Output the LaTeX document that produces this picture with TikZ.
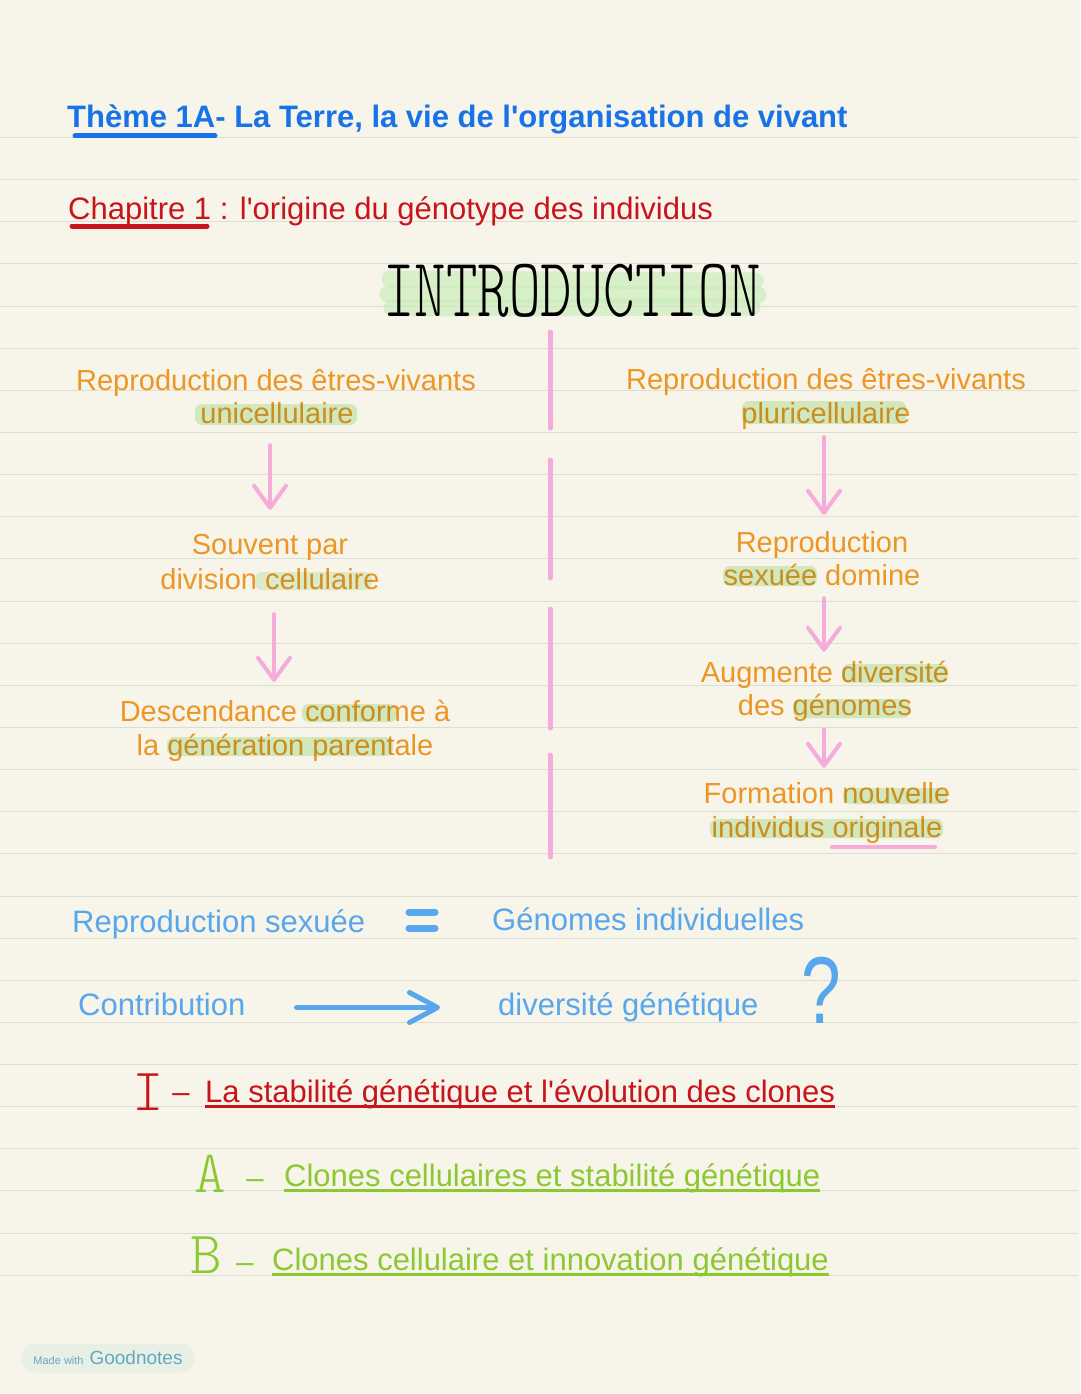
\documentclass[tikz,border=0pt]{standalone}
\usepackage{fontspec}
\setmainfont{Liberation Sans}
\newfontfamily\handfont{lmmonolt10-regular.otf}
\usepackage{tikz}
\usetikzlibrary{arrows.meta, positioning, calc}

\definecolor{paper}{RGB}{247,244,233}
\definecolor{ruleline}{RGB}{222,221,212}
\definecolor{titleblue}{RGB}{24,115,232}
\definecolor{chapred}{RGB}{200,20,28}
\definecolor{notesorange}{RGB}{236,150,38}
\definecolor{markpink}{RGB}{245,172,218}
\definecolor{skyblue}{RGB}{88,166,235}
\definecolor{limegreen}{RGB}{140,200,50}
\definecolor{hlgreen}{RGB}{218,242,206}
\definecolor{introgreen}{RGB}{196,236,180}
\definecolor{badgefill}{RGB}{232,239,229}
\definecolor{badgetext}{RGB}{100,168,196}

\begin{document}
\begin{tikzpicture}[x=1pt, y=-1pt,
    col/.style={font=\fontsize{29}{34}\selectfont, text=notesorange, inner sep=0pt,
                anchor=base, text height=21pt, text depth=6pt},
    bluetxt/.style={font=\fontsize{31}{36}\selectfont, text=skyblue, inner sep=0pt,
                anchor=base west, text height=22pt, text depth=7pt},
    sect/.style={font=\fontsize{31}{36}\selectfont, inner sep=0pt, anchor=base},
    hand/.style={font=\handfont\fontsize{60}{60}\selectfont, inner sep=0pt, anchor=base},
    pinkarr/.style={draw=markpink, line width=4pt, line cap=round,
                -{Straight Barb[length=22pt, width=32pt, round]}},
    bluearr/.style={draw=skyblue, line width=5pt, line cap=round,
                -{Straight Barb[length=28pt, width=30pt, round]}},
    sepline/.style={markpink, line width=5pt, line cap=round},
    ruled/.style={ruleline, line width=1.5pt},
    hl/.style={fill=hlgreen, rounded corners=7pt}]

    \useasboundingbox (0,0) rectangle (1080,1394);
    \fill[paper] (0,0) rectangle (1080,1394);

    % === ruled paper ===
    \foreach \k in {0,...,27}{
        \pgfmathsetmacro{\ry}{round(137+42.14*\k)+0.5}
        \draw[ruled] (0,\ry) -- (1078,\ry);
    }

    % === headings ===
    \node[anchor=base west, inner sep=0pt, font=\bfseries\fontsize{31}{36}\selectfont, text=titleblue]
        (theme) at (67,128) {Thème 1A- La Terre, la vie de l\textquotesingle organisation de vivant};
    \draw[titleblue, line width=5pt, line cap=round] (75,136) -- (215,136);

    \node[anchor=base west, inner sep=0pt, font=\fontsize{31}{36}\selectfont, text=chapred]
        (chap) at (68,219) {Chapitre 1 : l\textquotesingle origine du génotype des individus};
    \draw[chapred, line width=5pt, line cap=round] (72,226) -- (207,226);

    % === INTRODUCTION ===
    \draw[introgreen, line width=17pt, line cap=round, opacity=0.6] (390,279) -- (755,281);
    \draw[introgreen, line width=17pt, line cap=round, opacity=0.6] (388,294) -- (758,295);
    \draw[introgreen, line width=17pt, line cap=round, opacity=0.6] (392,308) -- (752,307);
    \node[font=\handfont\fontsize{60}{60}\selectfont, inner sep=0pt]
        (intro) at (572,291) {\scalebox{1}[1.4]{INTRODUCTION}};

    % === left column ===
    \node[col] (lreprod) at (276,390) {Reproduction des êtres-vivants};
    \node[col] (lunicell) at (277,423) {unicellulaire};
    \node[col] (lsouvent) at (270,554) {Souvent par};
    \node[col] (ldivision) at (270,589) {division cellulaire};
    \node[col] (ldescend) at (285,721) {Descendance conforme à};
    \node[col] (lgener) at (285,755) {la génération parentale};

    \draw[pinkarr, shorten <=16pt, shorten >=23pt] (lunicell.south -| lsouvent) -- (lsouvent.north);
    \draw[pinkarr, shorten <=19pt, shorten >=18pt] ([xshift=4pt]ldivision.south) -- ([xshift=-11pt]ldescend.north);

    % === right column ===
    \node[col] (rreprod) at (826,389) {Reproduction des êtres-vivants};
    \node[col] (rpluri) at (826,423) {pluricellulaire};
    \node[col] (rsexA) at (822,552) {Reproduction};
    \node[col] (rsexB) at (822,585) {sexuée domine};
    \node[col] (rdivA) at (825,682) {Augmente diversité};
    \node[col] (rdivB) at (825,715) {des génomes};
    \node[col] (rformA) at (827,803) {Formation nouvelle};
    \node[col] (rformB) at (827,837) {individus originale};

    \draw[pinkarr, shorten <=8pt, shorten >=16pt] ([xshift=-2pt]rpluri.south) -- ([xshift=2pt]rsexA.north);
    \draw[pinkarr, shorten <=7pt, shorten >=9pt] ([xshift=2pt]rsexB.south) -- ([xshift=-1pt]rdivA.north);
    \draw[pinkarr, shorten <=8pt, shorten >=14pt] ([xshift=-1pt]rdivB.south) -- ([xshift=-3pt]rformA.north);
    \draw[markpink, line width=4pt, line cap=round] (832,847) -- (935,847);

    % separator
    \foreach \a/\b in {332/428, 460/578, 609/728, 755/857}
        \draw[sepline] (550,\a) -- (550,\b);

    % === highlighter ===
    \begin{scope}[blend mode=multiply]
        \fill[hl] (195,404) rectangle (357,425);
        \fill[hl, opacity=0.7] (255,572) rectangle (372,590);
        \fill[hl] (302,704) rectangle (397,722);
        \fill[hl] (167,737) rectangle (393,756);
        \fill[hl] (742,401) rectangle (906,424);
        \fill[hl] (723,566) rectangle (817,586);
        \fill[hl] (842,664) rectangle (948,683);
        \fill[hl] (793,699) rectangle (910,718);
        \fill[hl] (843,788) rectangle (947,804);
        \fill[hl] (710,819) rectangle (943,838);
    \end{scope}

    % === sexual reproduction ===
    \node[bluetxt] (repsex) at (72,932) {Reproduction sexuée};
    \node[bluetxt] (genind) at (492,930) {Génomes individuelles};
    \draw[skyblue, line width=7pt, line cap=round] (409,912) -- (435,912) (409,928) -- (435,928);

    \node[bluetxt] (contrib) at (78,1015) {Contribution};
    \node[bluetxt] (divgen) at (498,1015) {diversité génétique};
    \draw[bluearr, shorten <=51pt, shorten >=58pt] (contrib.east) -- (divgen.west);
    \node[text=skyblue, font=\fontsize{95}{95}\selectfont, inner sep=0pt]
        (quest) at (821,990) {\scalebox{0.75}[1]{?}};

    % === plan ===
    \node[hand, text=chapred] (secI) at (148,1110) {I};
    \node[sect, text=chapred] (dashI) at (181,1102) {\textendash};
    \node[sect, anchor=base west, text=chapred] (secItxt) at (205,1102)
        {La stabilité génétique et l\textquotesingle évolution des clones};
    \draw[chapred, line width=3pt] ([yshift=-4pt]secItxt.base west) -- ([yshift=-4pt]secItxt.base east);

    \node[hand, text=limegreen] (secA) at (210,1192) {A};
    \node[sect, text=limegreen] (dashA) at (255,1188) {\textendash};
    \node[sect, anchor=base west, text=limegreen] (secAtxt) at (284,1186)
        {Clones cellulaires et stabilité génétique};
    \draw[limegreen, line width=3pt] ([yshift=-4pt]secAtxt.base west) -- ([yshift=-4pt]secAtxt.base east);

    \node[hand, text=limegreen] (secB) at (206,1273) {B};
    \node[sect, text=limegreen] (dashB) at (245,1272) {\textendash};
    \node[sect, anchor=base west, text=limegreen] (secBtxt) at (272,1270)
        {Clones cellulaire et innovation génétique};
    \draw[limegreen, line width=3pt] ([yshift=-4pt]secBtxt.base west) -- ([yshift=-4pt]secBtxt.base east);

    % badge
    \node[fill=badgefill, rounded corners=14pt, text=badgetext, inner xsep=12pt, minimum height=29pt]
        (badge) at (108,1358) {\fontsize{11}{11}\selectfont Made with\hspace{6pt}\fontsize{19}{19}\selectfont Goodnotes};
\end{tikzpicture}
\end{document}
